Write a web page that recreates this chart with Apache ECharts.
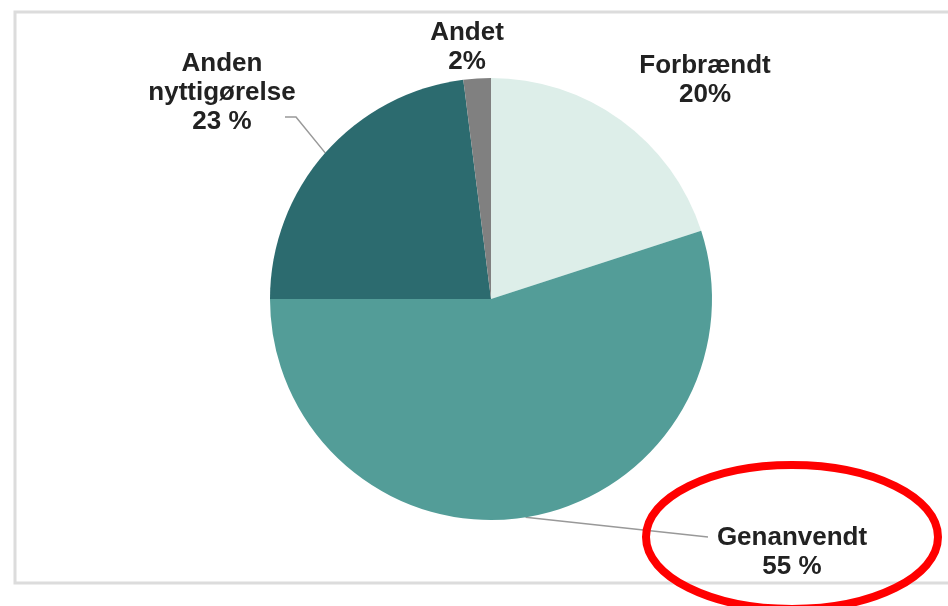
<!DOCTYPE html>
<html>
<head>
<meta charset="utf-8">
<script src="https://cdn.jsdelivr.net/npm/echarts@6/dist/echarts.min.js"></script>
<style>
  html, body { margin: 0; padding: 0; background: #fff; }
  #chart { width: 948px; height: 606px; }
</style>
</head>
<body>
<div id="chart"></div>
<script>
// data
const names = ['Forbrændt', 'Genanvendt', 'Anden nyttigørelse', 'Andet'];
const values = [20, 55, 23, 2];
const valueLabels = ['20%', '55 %', '23 %', '2%'];
const colors = ['#ddeee9', '#539d98', '#2c6b6f', '#808080'];

// label centres and leader line ends (layout only)
const labelPos = [[705, 80], [792, 552], [222, 93], [467, 47]];
const lineEnds = [null, [[708, 537]], [[296, 117], [285, 117]], null];

const chart = echarts.init(document.getElementById('chart'));

chart.setOption({
  animation: false,
  backgroundColor: '#fff',
  graphic: [
    {
      type: 'rect',
      shape: { x: 15, y: 12, width: 950, height: 571 },
      style: { fill: 'none', stroke: '#dcdcdc', lineWidth: 3 },
      z: 0
    },
    {
      type: 'ellipse',
      shape: { cx: 792, cy: 537, rx: 146, ry: 72 },
      style: { fill: 'none', stroke: '#ff0000', lineWidth: 8 },
      z: 100
    }
  ],
  series: [{
    type: 'pie',
    center: [491, 299],
    radius: 221,
    startAngle: 90,
    clockwise: true,
    avoidLabelOverlap: false,
    itemStyle: { borderWidth: 0 },
    label: {
      show: true,
      position: 'outside',
      fontFamily: 'Liberation Sans, Arial, sans-serif',
      fontSize: 26,
      fontWeight: 'bold',
      color: '#222',
      lineHeight: 29,
      align: 'center',
      formatter: p => p.name.replace(' ', '\n') + '\n' + valueLabels[p.dataIndex]
    },
    labelLine: {
      show: true,
      lineStyle: { color: '#999', width: 1.5 }
    },
    labelLayout: function (params) {
      const i = params.dataIndex;
      const out = {
        x: labelPos[i][0],
        y: labelPos[i][1],
        align: 'center',
        verticalAlign: 'middle'
      };
      if (lineEnds[i] && params.labelLinePoints) {
        const p0 = params.labelLinePoints[0];
        out.labelLinePoints = [[p0[0], p0[1]]].concat(lineEnds[i]);
      }
      return out;
    },
    data: names.map((n, i) => ({
      name: n,
      value: values[i],
      itemStyle: { color: colors[i] },
      labelLine: { show: !!lineEnds[i] }
    }))
  }]
});
</script>
</body>
</html>
